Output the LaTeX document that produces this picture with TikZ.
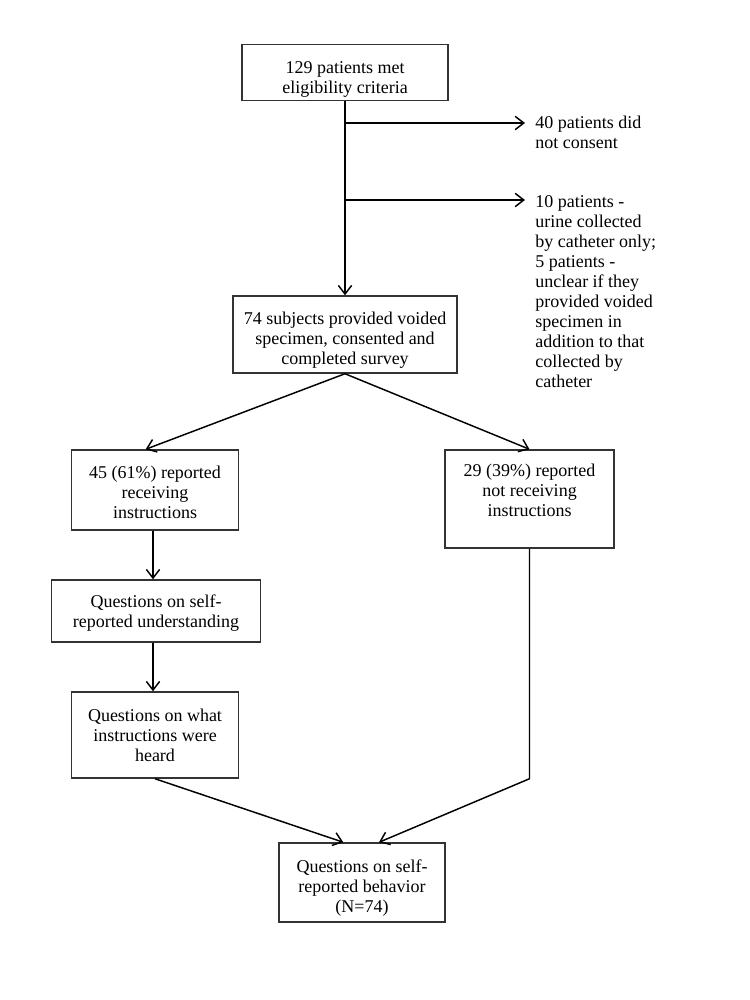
\documentclass[tikz,border=0pt]{standalone}
\usepackage{fontspec}
\setmainfont{Liberation Serif}
\usetikzlibrary{arrows.meta}

% taller first line, to push the text of a box down a little
\newcommand{\dn}[1]{\rule{0pt}{#1}}

\begin{document}
\begin{tikzpicture}[x=0.75pt, y=-0.75pt,
        box/.style={draw=black!80, line width=1.1pt, align=center, inner sep=2pt,
            font=\fontsize{13.5}{15}\selectfont},
        note/.style={align=left, inner xsep=7.5pt, inner ysep=0pt,
            font=\fontsize{13.5}{15}\selectfont},
        arr/.style={-{Straight Barb[length=6.5pt,width=10pt]}, line width=1.1pt}]
        % page, in pixels of the original figure
        \useasboundingbox (0,0) rectangle (750,1000);

        % main column
        \node[box, minimum width=154.5pt, minimum height=41.25pt] (elig) at (345,72.5)
            {\dn{20pt}129 patients met\\eligibility criteria};
        \node[box, minimum width=168pt, minimum height=57.75pt] (subj) at (345,334.5)
            {\dn{18.5pt}74 subjects provided voided\\specimen, consented and\\completed survey};

        % exclusions on the right
        \node[note, anchor=north west] (nocons) at (525,115.5)
            {40 patients did\\not consent};
        \node[note, anchor=north west] (cath) at (525,195)
            {10 patients -\\urine collected\\by catheter only;\\5 patients -\\unclear if they\\provided voided\\specimen in\\addition to that\\collected by\\catheter};

        % the two groups
        \node[box, minimum width=125.25pt, minimum height=60pt] (recv) at (155,490)
            {\dn{13pt}45 (61\%) reported\\receiving\\instructions};
        \node[box, minimum width=126.75pt, minimum height=73.5pt] (notrecv) at (529.5,499)
            {29 (39\%) reported\\not receiving\\instructions\rule[-13pt]{0pt}{13pt}};
        \node[box, minimum width=156.75pt, minimum height=46.5pt] (und) at (156,611)
            {\dn{13.25pt}Questions on self-\\reported understanding};
        \node[box, minimum width=125.25pt, minimum height=64.5pt] (heard) at (155,735)
            {Questions on what\\instructions were\\heard};
        \node[box, minimum width=124.5pt, minimum height=59.25pt] (behav) at (362,882.5)
            {\dn{18.5pt}Questions on self-\\reported behavior\\(N=74)};

        % connectors
        \coordinate (b1) at (345,123);
        \coordinate (b2) at (345,200);
        \coordinate (bend) at (notrecv.south |- heard.south);
        \draw[arr] (elig.south) -- (subj.north);
        \draw[arr] (b1) -- (b1 -| nocons.west);
        \draw[arr] (b2) -- (b2 -| cath.west);
        \draw[arr] (subj.south) -- ([xshift=-7pt]recv.north);
        \draw[arr] (subj.south) -- (notrecv.north);
        \draw[arr] ([xshift=-1.5pt]recv.south) -- ([xshift=-1.5pt]recv.south |- und.north);
        \draw[arr] ([xshift=-1.5pt]recv.south |- und.south) -- ([xshift=-1.5pt]heard.north);
        \draw[arr] (heard.south) -- ([xshift=-14pt]behav.north);
        \draw[arr] (notrecv.south) -- (bend) -- ([xshift=12.75pt]behav.north);
    \end{tikzpicture}
\end{document}
